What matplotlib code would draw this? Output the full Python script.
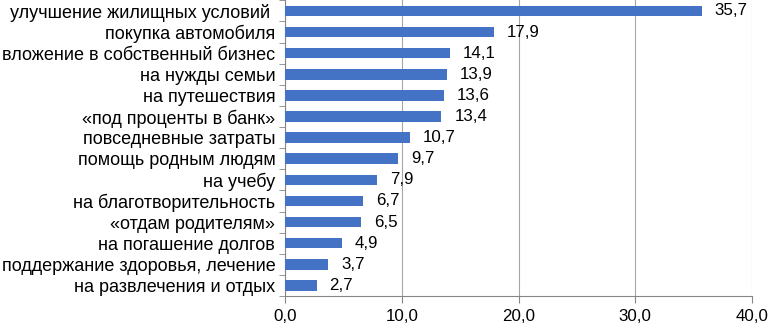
import matplotlib.pyplot as plt
import numpy as np

# === data ===
categories = [
    "улучшение жилищных условий ",
    "покупка автомобиля",
    "вложение в собственный бизнес",
    "на нужды семьи",
    "на путешествия",
    "«под проценты в банк»",
    "повседневные затраты",
    "помощь родным людям",
    "на учебу",
    "на благотворительность",
    "«отдам родителям»",
    "на погашение долгов",
    "поддержание здоровья, лечение",
    "на развлечения и отдых",
]
values = [35.7, 17.9, 14.1, 13.9, 13.6, 13.4, 10.7, 9.7, 7.9, 6.7, 6.5, 4.9, 3.7, 2.7]
x_ticks = [0, 10, 20, 30, 40]

plt.rcParams['font.family'] = ['Liberation Sans', 'DejaVu Sans']

fig = plt.figure(figsize=(7.69, 3.26), dpi=100)
ax = fig.add_axes([0.3706, 0.092, 0.978 - 0.3706, 0.907])

n = len(categories)
y = np.arange(n)[::-1]
ax.barh(y, values, height=0.5, color='#4472C4', zorder=3)

for yi, v in zip(y, values):
    ax.text(v + 1.1, yi, f"{v:.1f}".replace('.', ','), va='center', ha='left',
            fontsize=12.2, color='#000000', zorder=4)

ax.set_xlim(0, 40)
ax.set_ylim(-0.5, n - 0.5)
ax.set_xticks(x_ticks)
ax.set_xticklabels([f"{t:.1f}".replace('.', ',') for t in x_ticks], fontsize=12.2)
ax.set_yticks(y)
ax.set_yticklabels(categories, fontsize=13)
ax.tick_params(axis='y', length=0, pad=7)
ax.set_yticks(np.arange(n + 1) - 0.5, minor=True)
ax.tick_params(axis='y', which='minor', length=4, color='#868686')
ax.tick_params(axis='x', length=5, color='#868686', pad=4)

ax.grid(axis='x', color='#A6A6A6', linewidth=0.8, zorder=0)
for s in ['top', 'right']:
    ax.spines[s].set_visible(False)
for s in ['left', 'bottom']:
    ax.spines[s].set_color('#868686')
    ax.spines[s].set_linewidth(0.8)

fig.savefig("out.png", dpi=100)
